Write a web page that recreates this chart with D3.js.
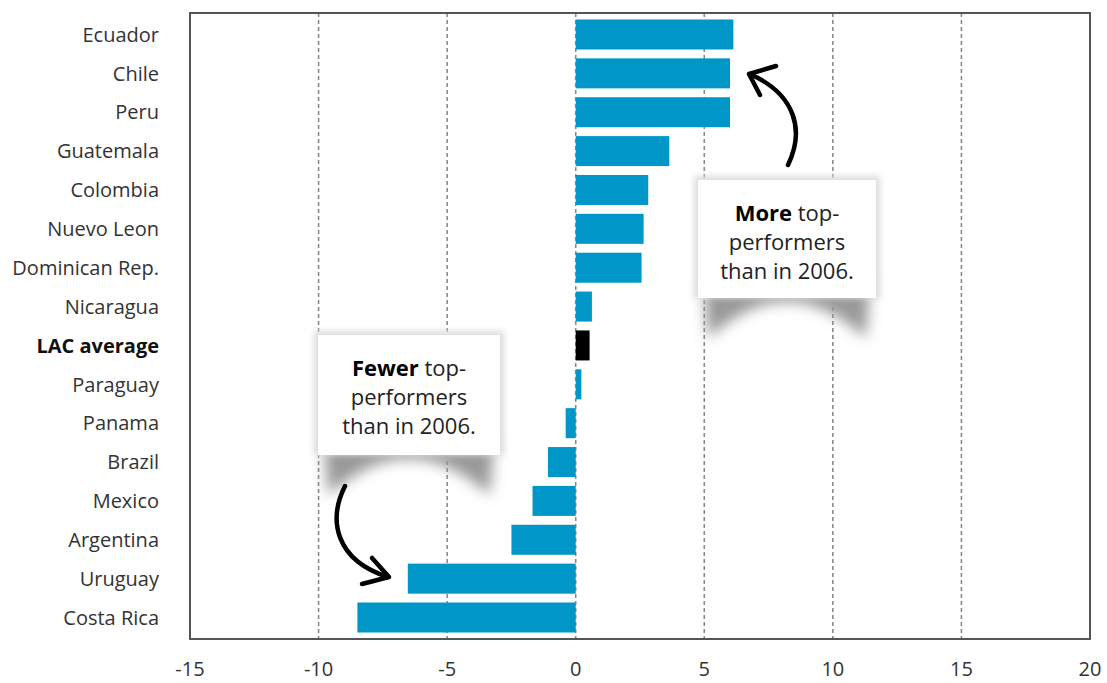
<!DOCTYPE html>
<html>
<head>
<meta charset="utf-8">
<script src="https://cdn.jsdelivr.net/npm/d3@7"></script>
<style>
  body { margin: 0; background: #fff; }
  text { font-family: "Open Sans", sans-serif; fill: #333; }
</style>
</head>
<body>
<div id="chart"></div>
<script>
// data
var countries = ["Ecuador", "Chile", "Peru", "Guatemala", "Colombia", "Nuevo Leon",
  "Dominican Rep.", "Nicaragua", "LAC average", "Paraguay", "Panama", "Brazil",
  "Mexico", "Argentina", "Uruguay", "Costa Rica"];
var changes = [6.13, 6.0, 6.0, 3.64, 2.82, 2.64, 2.56, 0.63, 0.54, 0.22, -0.39, -1.08,
  -1.68, -2.5, -6.53, -8.49];
var xTicks = [-15, -10, -5, 0, 5, 10, 15, 20];
var gridTicks = [-10, -5, 0, 5, 10, 15];

var data = countries.map(function(c, i) { return { name: c, value: changes[i] }; });

var svgWidth = 1107;
var svgHeight = 683;
var margin = { top: 13, right: 17, bottom: 44, left: 190 };
var width = svgWidth - margin.left - margin.right;
var height = svgHeight - margin.top - margin.bottom;

var svg = d3.select("#chart")
  .append("svg")
  .attr("width", svgWidth)
  .attr("height", svgHeight);

var defs = svg.append("defs");
defs.append("filter").attr("id", "blur")
  .attr("x", "-30%").attr("y", "-30%").attr("width", "160%").attr("height", "160%")
  .append("feGaussianBlur").attr("stdDeviation", 7);
defs.append("filter").attr("id", "blur2")
  .attr("x", "-30%").attr("y", "-30%").attr("width", "160%").attr("height", "160%")
  .append("feGaussianBlur").attr("stdDeviation", 3);

var chartGroup = svg.append("g")
  .attr("transform", `translate(${margin.left}, ${margin.top})`);

// scales
var x = d3.scaleLinear().domain([-15, 20]).range([0, width]);
var y = d3.scaleBand().domain(countries).range([0, height])
  .paddingInner(0.228).paddingOuter(0.167);

// dashed grid
chartGroup.selectAll(".grid")
  .data(gridTicks)
  .enter()
  .append("line")
  .attr("x1", d => x(d)).attr("x2", d => x(d))
  .attr("y1", 0).attr("y2", height)
  .attr("stroke", "#8a8a8a")
  .attr("stroke-width", 1.6)
  .attr("stroke-dasharray", "4,3");

// bars
chartGroup.selectAll(".bar")
  .data(data)
  .enter()
  .append("rect")
  .attr("x", d => x(Math.min(0, d.value)))
  .attr("width", d => Math.abs(x(d.value) - x(0)))
  .attr("y", d => y(d.name))
  .attr("height", y.bandwidth())
  .attr("fill", d => d.name === "LAC average" ? "#000" : "#0096c8");

// frame
chartGroup.append("rect")
  .attr("width", width).attr("height", height)
  .attr("fill", "none").attr("stroke", "#555").attr("stroke-width", 2);

// y labels
chartGroup.selectAll(".ylab")
  .data(countries)
  .enter()
  .append("text")
  .attr("x", -31)
  .attr("y", d => y(d) + y.bandwidth() / 2)
  .attr("dy", "0.36em")
  .attr("text-anchor", "end")
  .attr("font-size", 20)
  .attr("font-weight", d => d === "LAC average" ? "bold" : "normal")
  .style("fill", d => d === "LAC average" ? "#111" : "#333")
  .text(d => d);

// x labels
chartGroup.selectAll(".xlab")
  .data(xTicks)
  .enter()
  .append("text")
  .attr("x", d => x(d))
  .attr("y", height + 30)
  .attr("dy", "0.35em")
  .attr("text-anchor", "middle")
  .attr("font-size", 20)
  .text(d => d);

// annotation boxes with curled shadow
function note(cx, top, w, h, bold) {
  var g = svg.append("g");
  var left = cx - w / 2;
  g.append("path")
    .attr("d", `M${left + 6},${top + h - 12} L${left + w - 6},${top + h - 12} L${left + w - 10},${top + h + 40}
      Q${cx + w * 0.2},${top + h + 2} ${cx},${top + h + 4} Q${cx - w * 0.2},${top + h + 2} ${left + 10},${top + h + 40} Z`)
    .attr("fill", "#999")
    .attr("filter", "url(#blur)");
  g.append("rect")
    .attr("x", left - 4).attr("y", top - 4).attr("width", w + 8).attr("height", h + 4)
    .attr("fill", "#ddd").attr("filter", "url(#blur2)");
  g.append("rect")
    .attr("x", left).attr("y", top).attr("width", w).attr("height", h)
    .attr("fill", "#fff");
  var t = g.append("text").attr("text-anchor", "middle").attr("font-size", 22).style("fill", "#222");
  var l1 = t.append("tspan").attr("x", cx).attr("y", top + 41);
  l1.append("tspan").attr("font-weight", "bold").style("fill", "#000").text(bold);
  l1.append("tspan").text(" top-");
  t.append("tspan").attr("x", cx).attr("y", top + 70).text("performers");
  t.append("tspan").attr("x", cx).attr("y", top + 99).text("than in 2006.");
}
note(787, 180, 178, 118, "More");
note(409, 335, 182, 120, "Fewer");

// arrows
var arrows = svg.append("g")
  .attr("fill", "none").attr("stroke", "#000")
  .attr("stroke-width", 4.5).attr("stroke-linecap", "round").attr("stroke-linejoin", "round");
arrows.append("path").attr("d", "M788,165 C805,130 795,95 752,75");
arrows.append("path").attr("d", "M776,66 L749,74 L760,95");
arrows.append("path").attr("d", "M345,486 C328,520 335,560 388,577");
arrows.append("path").attr("d", "M372,558 L389,577 L362,584");
</script>
</body>
</html>
